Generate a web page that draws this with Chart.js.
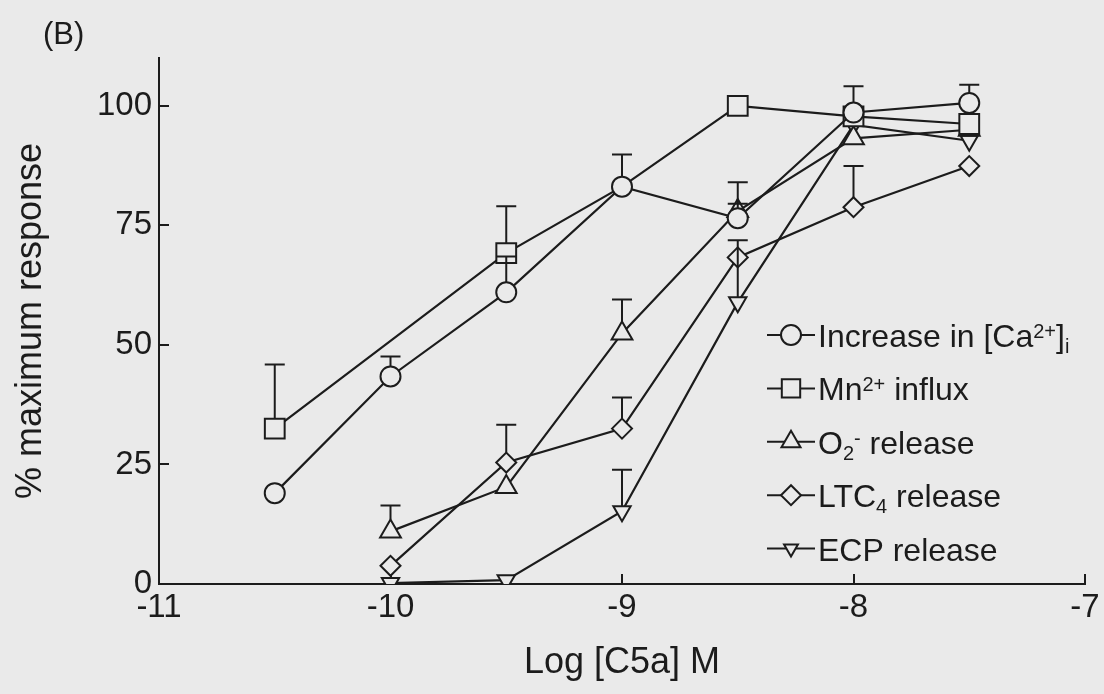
<!DOCTYPE html>
<html><head><meta charset="utf-8">
<script src="https://cdn.jsdelivr.net/npm/chart.js@4"></script>
<style>html,body{margin:0;padding:0;background:#eaeaea;} canvas{display:block}</style>
</head><body>
<canvas id="c" width="1104" height="694"></canvas>
<script>
// ---- data ----
const panelLabel = '(B)';
const xTitle = 'Log [C5a] M';
const yTitle = '% maximum response';

const caX   = [-10.5, -10, -9.5, -9, -8.5, -8, -7.5];
const caY   = [19, 43.4, 61, 83.1, 76.5, 98.6, 100.6];
const caErr = [0, 4.2, 7.5, 6.7, 7.5, 5.5, 3.8];

const mnX   = [-10.5, -9.5, -9, -8.5, -8, -7.5];
const mnY   = [32.5, 69.2, 83.1, 100, 97.8, 96.2];
const mnErr = [13.4, 9.8, 0, 0, 0, 0];

const o2X   = [-10, -9.5, -9, -8.5, -8, -7.5];
const o2Y   = [11, 20.3, 52.4, 78, 93.2, 95];
const o2Err = [5.4, 0, 7.1, 1.5, 0, 0];

const ltcX   = [-10, -9.5, -9, -8.5, -8, -7.5];
const ltcY   = [3.8, 25.4, 32.5, 68.3, 78.8, 87.4];
const ltcErr = [0, 7.9, 6.5, 0, 8.6, 0];

const ecpX   = [-10, -9.5, -9, -8.5, -8, -7.5];
const ecpY   = [0.2, 0.8, 15.2, 58.9, 96, 92.7];
const ecpErr = [0, 0, 8.7, 13, 0, 0];

const xTicks = [-11, -10, -9, -8, -7];
const yTicks = [0, 25, 50, 75, 100];

// legend label pieces: [text, 'n' | 'sup' | 'sub']
const legendLabels = [
  [['Increase in [Ca','n'],['2+','sup'],[']','n'],['i','sub']],
  [['Mn','n'],['2+','sup'],[' influx','n']],
  [['O','n'],['2','sub'],['-','sup'],[' release','n']],
  [['LTC','n'],['4','sub'],[' release','n']],
  [['ECP release','n']]
];

// ---- styling ----
const INK = '#1c1c1c';
const BG = '#eaeaea';
const FONT = "'Liberation Sans', Arial, Helvetica, sans-serif";

const pts = (xs, ys) => xs.map((x, i) => ({x: x, y: ys[i]}));

function ds(label, xs, ys, errs, style, radius, extra) {
  return Object.assign({
    label: label,
    data: pts(xs, ys),
    errUp: errs,
    borderColor: INK,
    backgroundColor: BG,
    borderWidth: 2.2,
    pointStyle: style,
    pointRadius: radius,
    pointBorderWidth: 2,
    pointBorderColor: INK,
    pointBackgroundColor: BG,
    tension: 0,
    fill: false
  }, extra || {});
}

const datasets = [
  ds('Increase in [Ca2+]i', caX, caY, caErr, 'circle', 10),
  ds('Mn2+ influx', mnX, mnY, mnErr, 'rect', [14, 14, 0, 14, 14, 14]),
  ds('O2- release', o2X, o2Y, o2Err, 'triangle', 12),
  ds('LTC4 release', ltcX, ltcY, ltcErr, 'rectRot', 10),
  ds('ECP release', ecpX, ecpY, ecpErr, 'triangle', 10, {pointRotation: 180})
];

function markerTopOffset(style, r, rot) {
  if (style === 'circle' || style === 'rectRot') return r;
  if (style === 'rect') return r * Math.SQRT1_2;
  if (style === 'triangle') return rot === 180 ? r / 2 : r;
  return r;
}

const bgPlugin = {
  id: 'bg',
  beforeDraw(chart) {
    const c = chart.ctx;
    c.save(); c.fillStyle = BG; c.fillRect(0, 0, chart.width, chart.height); c.restore();
  }
};

const errorBarPlugin = {
  id: 'errbars',
  afterDatasetsDraw(chart) {
    const c = chart.ctx, ys = chart.scales.y;
    c.save();
    c.strokeStyle = INK; c.lineWidth = 2;
    chart.data.datasets.forEach((d, i) => {
      const meta = chart.getDatasetMeta(i);
      meta.data.forEach((el, j) => {
        const e = d.errUp[j];
        if (!e) return;
        const r = Array.isArray(d.pointRadius) ? d.pointRadius[j] : d.pointRadius;
        const y0 = el.y - markerTopOffset(d.pointStyle, r, d.pointRotation || 0);
        const y1 = ys.getPixelForValue(d.data[j].y + e);
        c.beginPath();
        c.moveTo(el.x, y0); c.lineTo(el.x, y1);
        c.moveTo(el.x - 10, y1); c.lineTo(el.x + 10, y1);
        c.stroke();
      });
    });
    c.restore();
  }
};

const legendPlugin = {
  id: 'customLegend',
  afterDraw(chart) {
    const c = chart.ctx;
    const x0 = 767, x1 = 815, tx = 818, base0 = 347, step = 53.4;
    const legendRadius = [10, 13, 11, 10, 8];
    c.save();
    chart.data.datasets.forEach((d, i) => {
      const base = base0 + step * i;
      const cy = base - 12;
      c.strokeStyle = INK; c.lineWidth = 2;
      c.beginPath(); c.moveTo(x0, cy); c.lineTo(x1, cy); c.stroke();
      const mx = (x0 + x1) / 2;
      const opts = {pointStyle: d.pointStyle, radius: legendRadius[i], rotation: d.pointRotation || 0, borderWidth: 2};
      c.fillStyle = BG; c.strokeStyle = INK; c.lineWidth = 2;
      Chart.helpers.drawPoint(c, opts, mx, cy);
      let x = tx;
      c.fillStyle = INK; c.textBaseline = 'alphabetic'; c.textAlign = 'left';
      legendLabels[i].forEach(([t, kind]) => {
        let y = base;
        if (kind === 'n') c.font = '32px ' + FONT;
        else c.font = '20px ' + FONT;
        if (kind === 'sup') y = base - 9;
        if (kind === 'sub') y = base + 6;
        c.fillText(t, x, y);
        x += c.measureText(t).width;
      });
    });
    c.restore();
  }
};

const panelPlugin = {
  id: 'panel',
  afterDraw(chart) {
    const c = chart.ctx;
    c.save();
    c.fillStyle = INK; c.font = '31px ' + FONT; c.textBaseline = 'alphabetic'; c.textAlign = 'left';
    c.fillText(panelLabel, 43, 44);
    c.restore();
  }
};

new Chart(document.getElementById('c').getContext('2d'), {
  type: 'line',
  data: {datasets: datasets},
  options: {
    responsive: false,
    animation: false,
    devicePixelRatio: 1,
    layout: {padding: {left: 0, top: 58, right: 19, bottom: 0}},
    plugins: {legend: {display: false}, tooltip: {enabled: false}, title: {display: false}},
    scales: {
      x: {
        type: 'linear', min: -11, max: -7,
        afterBuildTicks(s) { s.ticks = xTicks.map(v => ({value: v})); },
        ticks: {color: INK, font: {family: FONT, size: 33}, padding: 14, maxRotation: 0, autoSkip: false},
        grid: {drawOnChartArea: false, drawTicks: true, tickLength: -10, color: INK, lineWidth: 2},
        border: {display: true, color: INK, width: 2},
        title: {display: true, text: xTitle, color: INK, font: {family: FONT, size: 36}, padding: {top: 0, bottom: 9}},
        afterFit(s) { s.height = 110; s.paddingLeft = 0; s.paddingRight = 0; }
      },
      y: {
        type: 'linear', min: 0, max: 110,
        afterBuildTicks(s) { s.ticks = yTicks.map(v => ({value: v})); },
        ticks: {color: INK, font: {family: FONT, size: 33}, padding: 17},
        grid: {drawOnChartArea: false, drawTicks: true, tickLength: -10, color: INK, lineWidth: 2},
        border: {display: true, color: INK, width: 2},
        title: {display: true, text: yTitle, color: INK, font: {family: FONT, size: 36}, padding: {top: 9, bottom: 0}},
        afterFit(s) { s.width = 159; s.paddingTop = 0; s.paddingBottom = 0; }
      }
    }
  },
  plugins: [bgPlugin, errorBarPlugin, legendPlugin, panelPlugin]
});
</script>
</body></html>
